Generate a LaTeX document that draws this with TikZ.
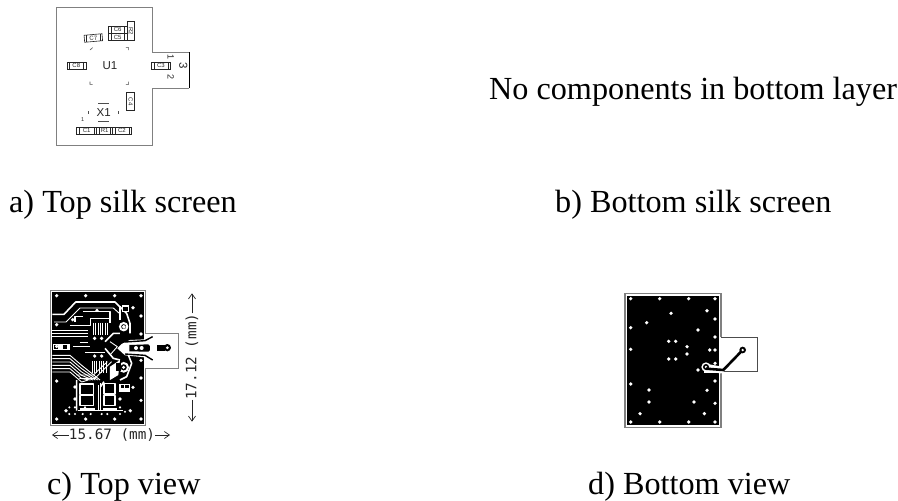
\documentclass[tikz,border=0pt]{standalone}
\usepackage{fontspec}
\usetikzlibrary{arrows.meta}
\setmainfont{Liberation Serif}
\setsansfont{Liberation Sans}
\setmonofont{DejaVu Sans Mono}
\begin{document}
\begin{tikzpicture}[x=1pt,y=-1pt,
  captxt/.style={anchor=base west,inner sep=0pt,font=\fontsize{32.2}{32}\selectfont},
  sil/.style={draw=black!85,line width=0.6pt,inner sep=0pt,font=\sffamily\fontsize{6}{6}\selectfont,text=black!85,
    path picture={\draw[black!85,line width=0.45pt]
      ([xshift=2.6pt]path picture bounding box.south west)--([xshift=2.6pt]path picture bounding box.north west)
      ([xshift=-2.6pt]path picture bounding box.south east)--([xshift=-2.6pt]path picture bounding box.north east);}},
  silk/.style={inner sep=0pt,font=\sffamily\fontsize{11.5}{12}\selectfont,text=black!85},
  board/.style={draw=black!50,line width=1pt},
  tr/.style={draw=white,line width=0.9pt,line join=round},
  trb/.style={draw=white,line width=1.6pt,line join=round},
  dim/.style={inner sep=0pt,font=\ttfamily\fontsize{14.3}{15}\selectfont,text=black!85},
  dimarrow/.style={-{Straight Barb[length=5pt,width=7pt]},line width=0.7pt,black!85}]
\useasboundingbox (0,0) rectangle (898,501);
\fill[white] (0,0) rectangle (898,501);
% captions
\node[captxt] (capa) at (9,212) {a) Top silk screen};
\node[captxt] (capb) at (555,212) {b) Bottom silk screen};
\node[captxt] (capn) at (489,99) {No components in bottom layer};
\node[captxt] (capc) at (47,494) {c) Top view};
\node[captxt] (capd) at (588,494) {d) Bottom view};
% a) silk
\begin{scope}[shift={(40,0)},x=1/3*1pt,y=-1/3*1pt]
\draw[board] (447,157) -- (337,157) -- (337,22) -- (50,22) -- (50,435) -- (337,435) -- (337,265) -- (447,265);
\draw[black,line width=0.9pt] (447,157) -- (447,265);
\node[sil,minimum width=18pt,minimum height=7pt,rotate=5] (c7) at (160,114) {C7};
\node[sil,minimum width=19pt,minimum height=7pt] (c6) at (233,89) {C6};
\node[sil,minimum width=19pt,minimum height=7pt] (c5) at (233,111) {C5};
\node[sil,minimum width=19pt,minimum height=7.5pt,rotate=-90] (r2) at (273,93) {R2};
\node[sil,minimum width=19pt,minimum height=7pt] (c8) at (109,197) {C8};
\node[sil,minimum width=19pt,minimum height=7pt] (c3) at (363,197) {C3};
\node[sil,minimum width=18pt,minimum height=8pt,rotate=-90] (c4) at (272,305) {C4};
\node[sil,minimum width=20pt,minimum height=7pt] (c1) at (140,391) {C1};
\node[sil,minimum width=16pt,minimum height=7pt] (r1) at (194,391) {R1};
\node[sil,minimum width=19pt,minimum height=7pt] (c2) at (246,391) {C2};
\node[silk] (u1) at (210,197) {U1};
\node[silk] (x1) at (191,337) {X1};
\node[silk,rotate=-90,font=\sffamily\fontsize{9}{9}\selectfont] (p1) at (392,170) {1};
\node[silk,rotate=-90,font=\sffamily\fontsize{9}{9}\selectfont] (p2) at (392,230) {2};
\node[silk,rotate=-90] (p3) at (430,197) {3};
\node[silk,font=\sffamily\fontsize{5.5}{6}\selectfont] (p4) at (128,360) {1};
\draw[black!70,line width=0.5pt] (175,310)--(207,310) (175,365)--(207,365) (145,333)--(145,343) (235,333)--(235,343);
\draw[black!70,line width=0.6pt] (150,150)--(158,143) (258,143)--(266,143)--(266,150) (150,245)--(150,253)--(158,253) (258,253)--(266,253)--(266,245);
\end{scope}
% c) top view
\begin{scope}[shift={(30,280)},x=1/3*1pt,y=-1/3*1pt]
\draw[board] (347,160) -- (347,32) -- (62,32) -- (62,435) -- (347,435) -- (347,265) -- (447,265) -- (447,160) -- cycle;
\fill[black] (67,37) rectangle (343,431);
% center clearance
\fill[white] (343,178) -- (300,180) -- (275,192) -- (262,205) -- (285,226) -- (343,232) -- cycle;
% tab copper
\fill[black] (298,195) -- (355,193) -- (360,198) -- (360,210) -- (355,215) -- (298,214) -- cycle;
\draw[black,line width=1.4pt] (285,186) -- (345,182) -- (368,170);
\draw[black,line width=1.4pt] (285,222) -- (345,226) -- (368,240);
\fill[black] (382,194) rectangle (405,212);
\fill[black] (412,203) circle (11);
\fill[white] (412,203) circle (4.5);
\foreach \p in {(318,204),(335,204)} \fill[white] \p circle (6);
% traces: upper
\draw[trb] (67,103)--(102,103)--(137,66)--(255,66)--(290,100)--(300,130)--(300,160);
\draw[tr] (72,126)--(108,126)--(150,84)--(250,84)--(268,100);
\draw[tr] (67,150)--(175,150) (67,160)--(175,160) (67,170)--(175,170);
\draw[tr] (120,135)--(180,135)--(180,115)--(240,115);
\draw[trb] (135,125)--(135,110)--(160,110) (160,95)--(240,95)--(240,130);
\foreach \x in {190,197,204,211,218,225,232} \draw[tr] (\x,128)--(\x,165);
% pads
\fill[white] (70,192) rectangle (120,210);
\fill[black] (73,195) rectangle (84,207);
\fill[black] (98,195) rectangle (112,207);
\draw[tr] (130,200)--(180,200) (150,188)--(175,188) (165,218)--(225,218);
% lower bus
\foreach \y/\e in {226/190,236/183,246/176,256/169,266/162,276/155} {
  \draw[tr] (67,\y)--(120,\y)--(155,\y+30)--(\e+20,\y+30-\y+270);
}
\foreach \x in {186,193,200,207,214,221,228} \draw[tr] (\x,243)--(\x,278);
\draw[tr] (140,285)--(190,285)--(232,245) (148,295)--(195,295)--(245,245);
% center diagonals
\draw[trb] (225,185)--(250,160)--(270,160) (225,205)--(250,235)--(270,240);
\draw[tr] (240,185)--(262,200)--(240,225);
% rings
\draw[white,line width=2pt] (281,140) circle (11);
\fill[white] (281,140) circle (5);
\draw[white,line width=2pt] (281,262) circle (13);
\fill[white] (281,262) circle (5);
\draw[trb] (270,120)--(270,78);
\draw[trb] (295,225)--(305,250)--(290,290)--(270,300);
\fill[white] (240,260) -- (270,240) -- (265,285) -- (240,300) -- cycle;
\fill[black] (258,248) rectangle (272,272);
\fill[white] (275,75) rectangle (298,95);
\fill[black] (279,80) rectangle (294,92);
% lower squares
\draw[trb,fill=black] (150,312) rectangle (190,343);
\draw[trb,fill=black] (150,347) rectangle (190,377);
\draw[trb,fill=black] (222,310) rectangle (255,342);
\draw[trb,fill=black] (222,346) rectangle (255,377);
\draw[trb] (205,315)--(205,392) (212,310)--(212,392)--(280,392) (145,392)--(212,392);
\draw[trb] (222,305)--(212,320) (140,300)--(140,392);
\foreach \a/\b in {118/382,135/382,118/402,135/402,165/382,182/402,270/382,285/395,270/402,232/402,215/402,158/402} \fill[white] (\a,\b) circle (3.5);
\fill[white] (268,312) rectangle (300,335);
\fill[black] (272,316) rectangle (282,325);
\fill[black] (286,316) rectangle (296,325);
\fill[white] (150,385) rectangle (195,392);
\fill[white] (220,385) rectangle (262,392);
% vias
\foreach \p in {(62,56),(149,56),(236,56),(315,56),(291,92),(183,100),(110,128),(315,117),(62,143),(264,150),(315,171),(176,184),(197,184),(176,237),(197,237),(62,208),(315,250),(315,303),(62,312),(117,330),(291,331),(117,366),(252,366),(315,370),(90,401),(283,401),(62,426),(149,426),(236,426),(315,426)}
  \fill[white,xshift=6pt,yshift=3pt] \p circle (5.5);
\node[dim,rotate=90] (d17) at (486,230) {17.12 (mm)};
\coordinate (d17t) at (486,40);
\coordinate (d17b) at (486,425);
\draw[dimarrow] (d17.east) -- (d17t);
\draw[dimarrow] (d17.west) -- (d17b);
\end{scope}
\node[dim] (d15) at (112,435) {15.67 (mm)};
\coordinate (d15l) at (52,435);
\coordinate (d15r) at (170,435);
\draw[dimarrow] (d15.west) -- (d15l);
\draw[dimarrow] (d15.east) -- (d15r);
% d) bottom view
\begin{scope}[shift={(610,280)},x=1/3*1pt,y=-1/3*1pt]
\draw[board,line width=1.2pt] (333,171) -- (333,40) -- (45,40) -- (45,443) -- (333,443) -- (333,273);
\draw[black!70,line width=0.7pt] (333,171) -- (441,171) -- (441,273) -- (333,273);
\fill[black] (52,47) rectangle (327,435);
\draw[white,line width=7pt,line cap=round] (289,262) -- (333,270);
\fill[white] (288,261) circle (14);
\fill[white] (283,280) rectangle (333,262);
\fill[black] (288,261) circle (9);
\fill[white] (288,261) circle (4);
\draw[black,line width=2.6pt] (288,266) -- (340,270) -- (398,210);
\fill[black] (398,210) circle (10);
\fill[white] (398,210) circle (4);
\foreach \p in {(62,56),(149,56),(236,56),(315,56),(291,92),(183,100),(110,128),(315,117),(62,143),(264,150),(315,171),(176,184),(197,184),(231,200),(62,208),(299,210),(315,210),(231,222),(176,237),(197,237),(315,250),(264,270),(315,303),(62,312),(117,330),(291,331),(117,366),(252,366),(315,370),(90,401),(283,401),(62,426),(149,426),(236,426),(315,426)}
  \fill[white] \p circle (5.5);
\end{scope}
\end{tikzpicture}
\end{document}
